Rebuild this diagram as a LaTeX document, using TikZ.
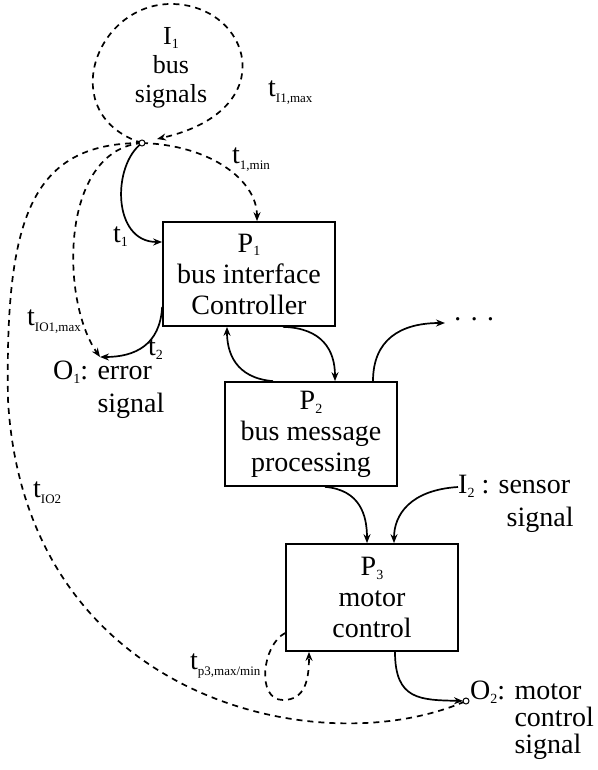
\documentclass[tikz,border=0pt]{standalone}
\usepackage{fontspec}
\setmainfont{Liberation Serif}
\usetikzlibrary{arrows.meta}
\newcommand{\subs}[1]{\raisebox{-0.3ex}{\fontsize{14}{14}\selectfont #1}}
\newcommand{\tsub}[1]{\raisebox{-0.45ex}{\fontsize{13}{13}\selectfont #1}}
\begin{document}
\begin{tikzpicture}[x=1pt,y=-1pt,
  box/.style={draw, line width=1.7pt, minimum width=172pt, minimum height=104pt, align=center, inner sep=0pt, font=\fontsize{28}{31}\selectfont},
  lbl/.style={anchor=west, inner sep=0pt, font=\fontsize{28}{28}\selectfont},
  txt/.style={anchor=west, align=left, inner sep=0pt},
  conn/.style={line width=1.7pt, -{Stealth[length=9pt,width=7pt]}},
  dconn/.style={conn, dash pattern=on 6pt off 5pt},
  dline/.style={line width=1.7pt, dash pattern=on 6pt off 5pt},
  dot/.style={circle, draw, line width=1pt, inner sep=0pt, minimum size=6pt, fill=white}]
\useasboundingbox (0,0) rectangle (597,770);

% boxes
\node[box] (P1) at (249,274) {P\subs{1}\\bus interface\\Controller};
\node[box] (P2) at (311,434) {P\subs{2}\\bus message\\processing};
\node[box, minimum height=107pt] (P3) at (372,597.5) {P\subs{3}\\motor\\control};
\node[align=center, inner sep=0pt, font=\fontsize{26}{29}\selectfont] (I1) at (171,68) {I\subs{1}\\bus\\signals};

% points
\coordinate (src) at (142,143);
\coordinate (O1) at (100,357);
\coordinate (O2) at (466,701);

% texts
\node[txt, font=\fontsize{28}{33}\selectfont] (O1txt) at (53,390) {O\subs{1}: error\\\phantom{O\subs{1}: }signal};
\node[txt, font=\fontsize{28}{33}\selectfont] (I2) at (458,504) {I\subs{2} : sensor\\\phantom{I\subs{2} : }\hspace{8pt}signal};
\node[txt, font=\fontsize{28}{27}\selectfont] (O2txt) at (470,720) {O\subs{2}: motor\\\phantom{O\subs{2}: }control\\\phantom{O\subs{2}: }signal};
\node[anchor=west, inner sep=0pt, font=\fontsize{28}{28}\selectfont] (dots) at (453,323) {·\hspace{7pt}·\hspace{7pt}·};

% labels
\node[lbl] (tI1) at (268,93) {t\tsub{I1,max}};
\node[lbl] (t1min) at (232,160) {t\tsub{1,min}};
\node[lbl] (t1) at (113,237) {t\subs{1}};
\node[lbl] (tIO1) at (27,322) {t\tsub{IO1,max}};
\node[lbl] (t2) at (148,350) {t\subs{2}};
\node[lbl] (tIO2) at (33,493) {t\tsub{IO2}};
\node[lbl] (tp3) at (190,666) {t\tsub{p3,max/min}};

% I1 loop
\draw[dconn] (src) .. controls (55,115) and (95,4) .. (171,4) .. controls (250,4) and (285,110) .. (157,139);
% t1
\draw[conn] (src) .. controls (112,165) and (112,242) .. (P1.west |- 0,242);
% t1,min
\draw[dconn] (src) .. controls (210,145) and (257,180) .. (P1.north -| 257,0);
% t_IO1,max
\draw[dconn] (src) .. controls (60,150) and (60,300) .. (O1);
% t2
\draw[conn] (P1.west |- 0,307) .. controls (160,345) and (135,357) .. (O1);
% t_IO2
\draw[dline] (src) .. controls (30,143) and (5,220) .. (8,400) .. controls (25,700) and (320,765) .. (O2);
% P1 -> P2
\draw[conn] (P1.south -| 283,0) .. controls (322,328) and (335,350) .. (P2.north -| 335,0);
% P2 -> P1
\draw[conn] (P2.north -| 273,0) .. controls (235,378) and (227,352) .. (P1.south -| 227,0);
% P2 -> dots
\draw[conn, shorten >=8pt] (P2.north -| 373,0) .. controls (373,340) and (400,323) .. (dots.west);
% P2 -> P3
\draw[conn] (P2.south -| 325,0) .. controls (360,490) and (367,515) .. (P3.north -| 367,0);
% I2 -> P3
\draw[conn] (I2.west |- 0,487) .. controls (410,490) and (394,515) .. (P3.north -| 394,0);
% P3 -> O2
\draw[conn, shorten >=3pt] (P3.south -| 395,0) .. controls (395,700) and (420,700) .. (O2);
% tp3 loop
\draw[dconn] (P3.west |- 0,633) .. controls (262,645) and (256,700) .. (283,700) .. controls (305,700) and (309,680) .. (P3.south -| 309,0);

% small circles
\node[dot] (srcdot) at (src) {};
\node[dot] (O2dot) at (O2) {};
\end{tikzpicture}
\end{document}
